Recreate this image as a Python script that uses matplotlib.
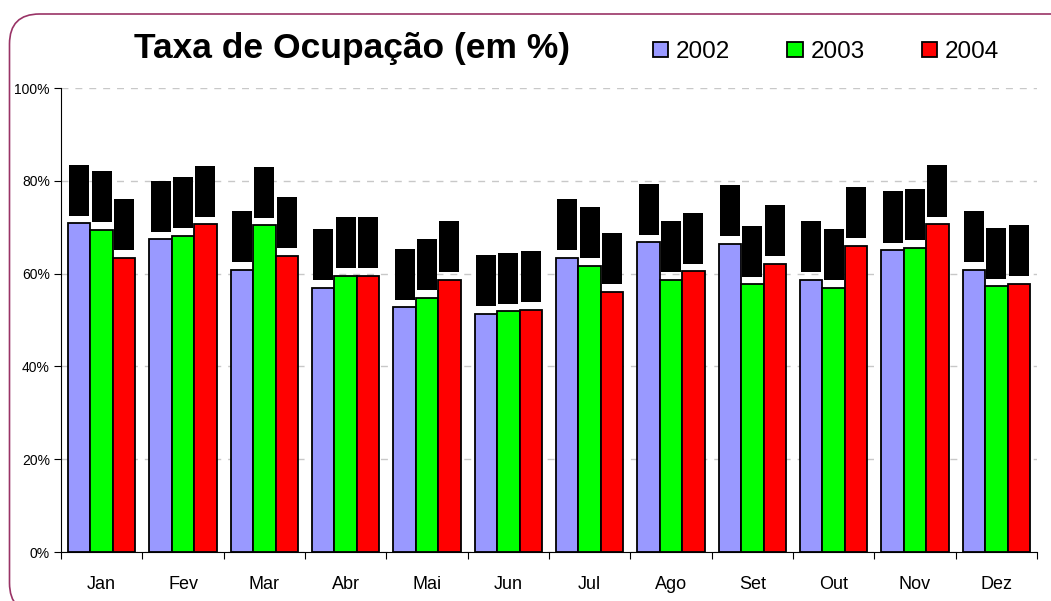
import numpy as np
import matplotlib
matplotlib.use('Agg')
import matplotlib.pyplot as plt
from matplotlib.patches import Patch, FancyBboxPatch

meses = ['Jan', 'Fev', 'Mar', 'Abr', 'Mai', 'Jun', 'Jul', 'Ago', 'Set', 'Out', 'Nov', 'Dez']
anos = ['2002', '2003', '2004']
taxa_2002 = [70.8, 67.4, 60.8, 57.0, 52.7, 51.4, 63.4, 66.8, 66.4, 58.7, 65.1, 60.8]
taxa_2003 = [69.5, 68.2, 70.4, 59.5, 54.8, 51.9, 61.7, 58.7, 57.7, 57.0, 65.6, 57.3]
taxa_2004 = [63.4, 70.6, 63.9, 59.5, 58.7, 52.2, 56.1, 60.5, 62.1, 66.0, 70.7, 57.8]
cores = ['#9999ff', '#00ff00', '#ff0000']

plt.rcParams['font.family'] = ['Liberation Sans', 'DejaVu Sans']

fig = plt.figure(figsize=(10.51, 6.01), dpi=100)
ax = fig.add_axes([61/1051, 49/601, 976/1051, 464/601])

x = np.arange(len(meses))
w = 0.275
series = [taxa_2002, taxa_2003, taxa_2004]
for i, vals in enumerate(series):
    pos = x + (i - 1) * w
    ax.bar(pos, vals, width=w, color=cores[i], edgecolor='black', linewidth=1.3,
           zorder=3, label=anos[i])
    # rotulos de dados (aparecem como blocos pretos)
    for p, v in zip(pos, vals):
        lbl = ('%.1f%%' % v).replace('.', ',')
        ax.bar(p, 11.0, bottom=v + 1.6, width=w * 0.9, color='black', zorder=3)
        ax.text(p, v + 1.6 + 5.5, lbl, rotation=90, ha='center', va='center',
                fontsize=8, color='black', zorder=4)

ax.set_xlim(-0.5, 11.5)
ax.set_ylim(0, 100)
ax.set_yticks(np.arange(0, 101, 20))
ax.set_yticklabels(['%d%%' % t for t in range(0, 101, 20)], fontsize=10)
ax.yaxis.grid(True, linestyle=(0, (5, 5)), color='#c8c8c8', linewidth=1, zorder=0)
ax.set_axisbelow(True)

ax.set_xticks(np.arange(-0.5, 12, 1))
ax.set_xticklabels([])
ax.set_xticks(x, minor=True)
ax.set_xticklabels(meses, minor=True, fontsize=13)
ax.tick_params(axis='x', which='major', length=5, direction='out')
ax.tick_params(axis='x', which='minor', length=0, pad=17)
ax.tick_params(axis='y', length=5, pad=3)

for s in ['top', 'right']:
    ax.spines[s].set_visible(False)

fig.text(352/1051, 1 - 58/601, 'Taxa de Ocupação (em %)', ha='center', va='baseline',
         fontsize=25.5, fontweight='bold',
         family=['Liberation Sans Narrow', 'Liberation Sans', 'DejaVu Sans'])

handles = [Patch(facecolor=c, edgecolor='black', linewidth=1.3) for c in cores]
fig.legend(handles, anos, loc='center left', bbox_to_anchor=(653/1051, 1 - 52/601),
           ncol=3, frameon=False, fontsize=17.5, handlelength=0.62, handleheight=0.62,
           handletextpad=0.33, columnspacing=2.35, borderpad=0, borderaxespad=0)

frame = FancyBboxPatch((0.095, -0.12), 10.83, 5.99, boxstyle='round,pad=0,rounding_size=0.3',
                       transform=fig.dpi_scale_trans, facecolor='none',
                       edgecolor='#993366', linewidth=1.2)
fig.patches.append(frame)

fig.savefig('out.png', dpi=100)
